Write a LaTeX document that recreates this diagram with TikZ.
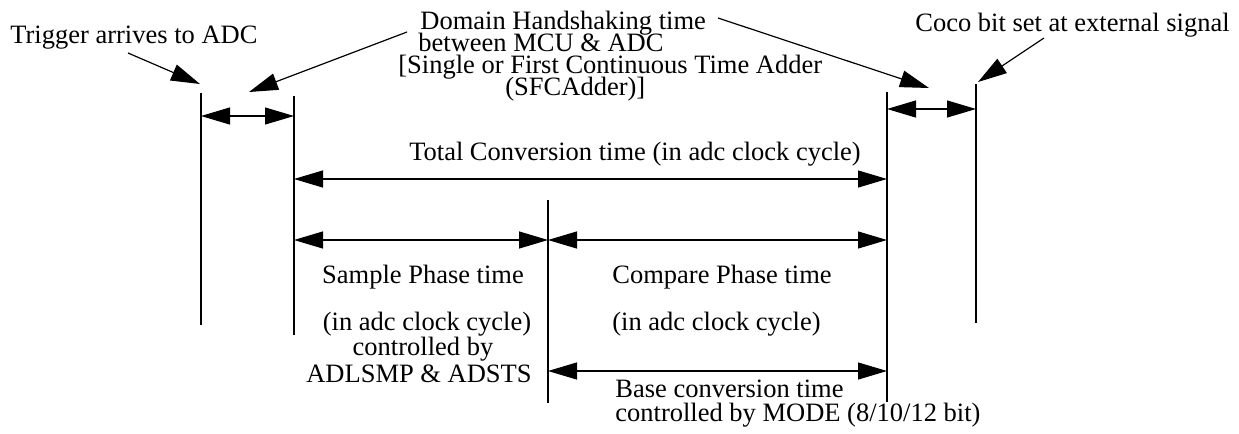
\documentclass[tikz,border=0pt]{standalone}
\usepackage{fontspec}
\setmainfont{Liberation Serif}
\usetikzlibrary{arrows.meta}
\begin{document}
\begin{tikzpicture}[x=0.5pt,y=-0.5pt,
  ptr/.style={line width=0.6pt,-{Triangle[length=14.5pt,width=8.5pt]}},
  span/.style={line width=0.6pt,{Triangle[length=14.5pt,width=8.5pt]}-{Triangle[length=14.5pt,width=8.5pt]}},
  lbl/.style={inner sep=0pt,font=\fontsize{13.25}{15}\selectfont}]
\useasboundingbox (0,0) rectangle (1239,434);

% time markers
\foreach \name/\x/\top/\bot in {trig/201/93/325, start/294/96/335, mid/548/200/403, stop/887/92/402, coco/976/84/323}
{
  \coordinate (top\name) at (\x,\top);
  \coordinate (bot\name) at (\x,\bot);
  \draw[line width=0.6pt] (top\name) -- (bot\name);
}

% rows of the spans
\coordinate (hsA) at (0,116);
\coordinate (hsB) at (0,109);
\coordinate (tot) at (0,179);
\coordinate (phase) at (0,240);
\coordinate (base) at (0,371);

\draw[span] (toptrig |- hsA) -- (topstart |- hsA);
\draw[span] (topstop |- hsB) -- (topcoco |- hsB);
\draw[span] (topstart |- tot) -- (topstop |- tot);
\draw[span] (topstart |- phase) -- (topmid |- phase);
\draw[span] (topmid |- phase) -- (topstop |- phase);
\draw[span] (topmid |- base) -- (topstop |- base);

% labels
\node[lbl,anchor=base west] (trigtxt) at (10,43) {Trigger arrives to ADC};
\node[lbl,anchor=base west] (hs1) at (420,29) {Domain Handshaking time};
\node[lbl,anchor=base west] (hs2) at (418,51) {between MCU \& ADC};
\node[lbl,anchor=base west] (hs3) at (398,73) {[Single or First Continuous Time Adder};
\node[lbl,anchor=base west] (hs4) at (505,95) {(SFCAdder)]};
\node[lbl,anchor=base east] (cocotxt) at (1230,31) {Coco bit set at external signal};
\node[lbl,anchor=base] (tottxt) at (635,160) {Total Conversion time (in adc clock cycle)};
\node[lbl,anchor=base] (smp1) at (423,283) {Sample Phase time};
\node[lbl,anchor=base] (smp2) at (427,330) {(in adc clock cycle)};
\node[lbl,anchor=base] (smp3) at (423,355) {controlled by};
\node[lbl,anchor=base] (smp4) at (419,382) {ADLSMP \& ADSTS};
\node[lbl,anchor=base west] (cmp1) at (612,283) {Compare Phase time};
\node[lbl,anchor=base west] (cmp2) at (612,330) {(in adc clock cycle)};
\node[lbl,anchor=base west] (bas1) at (615,397) {Base conversion time};
\node[lbl,anchor=base west] (bas2) at (615,421) {controlled by MODE (8/10/12 bit)};

% pointers
\coordinate (trigfrom) at (128,53);
\coordinate (trigto) at (200,84);
\coordinate (hsfromL) at (407,32);
\coordinate (hstoL) at (249,92);
\coordinate (hsfromR) at (718,18);
\coordinate (hstoR) at (929,88);
\coordinate (cocofrom) at (1044,38);
\coordinate (cocoto) at (978,82);
\draw[ptr] (trigfrom) -- (trigto);
\draw[ptr] (hsfromL) -- (hstoL);
\draw[ptr] (hsfromR) -- (hstoR);
\draw[ptr] (cocofrom) -- (cocoto);
\end{tikzpicture}
\end{document}
